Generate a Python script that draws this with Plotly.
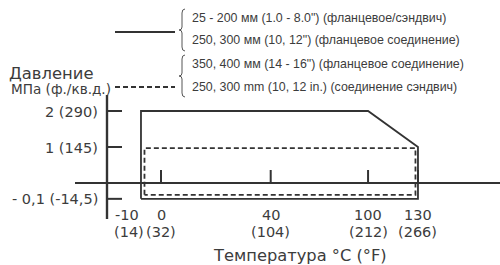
import numpy as np
import plotly.graph_objects as go

# ---------------- data ----------------
temp_ticks_c = [-10, 0, 40, 100, 130]
temp_ticks_f = [14, 32, 104, 212, 266]
# schematic (non-linear) placement of the temperature ticks along the drawn axis
temp_axis_pos = [-7.3, 0, 40, 75.5, 93.7]

press_ticks = [-0.1, 1, 2]
press_tick_labels = ["- 0,1 (-14,5)", "1 (145)", "2 (290)"]
# schematic placement of pressure values along the drawn axis
press_vals_map = [-0.1, 0, 1, 2]
press_axis_pos = [-0.44, 0, 1, 2]

# rating envelopes
solid_temp = [-10, -10, 100, 130, 130, -10]
solid_press = [-0.1, 2, 2, 1, -0.1, -0.1]
dashed_temp = [-10, -10, 130, 130, -10]
dashed_press = [-0.1, 1, 1, -0.1, -0.1]

legend_solid = ['25 - 200 мм (1.0 - 8.0") (фланцевое/сэндвич)',
                '250, 300 мм (10, 12") (фланцевое соединение)']
legend_dashed = ['350, 400 мм (14 - 16") (фланцевое соединение)',
                 '250, 300 mm (10, 12 in.) (соединение сэндвич)']

y_title = ["Давление", "МПа (ф./кв.д.)"]
x_title = "Температура °C (°F)"

# ---------------- layout constants ----------------
W, H = 500, 265
X0PX, XS = 161.0, 2.7425   # pixel of 0 position, px per unit
Y0PX, YS = 183.0, 36.0     # pixel of 0 MPa, px per MPa
LINE = "#333333"
TXT = "#3c3c3c"
FONT_LEG = "Liberation Sans, Arial, sans-serif"
FONT_AX = "DejaVu Sans, Verdana, sans-serif"


def tx(t):
    return np.interp(t, temp_ticks_c, temp_axis_pos)


def py(p):
    return np.interp(p, press_vals_map, press_axis_pos)


def px_x(px):
    return (px - X0PX) / XS


def px_y(pxv):
    return (Y0PX - pxv) / YS


fig = go.Figure()

# axis lines
fig.add_trace(go.Scatter(x=[px_x(75), px_x(500)], y=[0, 0], mode="lines",
                         line=dict(color=LINE, width=2.2), hoverinfo="skip"))
fig.add_trace(go.Scatter(x=[px_x(107), px_x(107)], y=[px_y(95), px_y(219)], mode="lines",
                         line=dict(color=LINE, width=2.4), hoverinfo="skip"))
# y ticks
for p in press_ticks:
    fig.add_trace(go.Scatter(x=[px_x(107), px_x(122)], y=[py(p), py(p)], mode="lines",
                             line=dict(color=LINE, width=2), hoverinfo="skip"))
# x ticks (upward)
for t in temp_ticks_c[1:]:
    fig.add_trace(go.Scatter(x=[tx(t), tx(t)], y=[0, 13 / YS], mode="lines",
                             line=dict(color=LINE, width=2), hoverinfo="skip"))

# solid envelope
fig.add_trace(go.Scatter(x=tx(solid_temp), y=py(solid_press), mode="lines",
                         line=dict(color=LINE, width=1.8), hoverinfo="skip"))
# dashed envelope (drawn slightly inset)
dx = tx(dashed_temp).astype(float)
dy = py(dashed_press).astype(float)
dx = np.where(np.array(dashed_temp) == min(dashed_temp), dx + 3.5 / XS, dx - 2.5 / XS)
dy = np.where(np.array(dashed_press) == min(dashed_press), dy + 4 / YS, dy - 1.2 / YS)
fig.add_trace(go.Scatter(x=dx, y=dy, mode="lines",
                         line=dict(color=LINE, width=1.8, dash="5px,3px"), hoverinfo="skip"))

# legend samples
fig.add_trace(go.Scatter(x=[px_x(115), px_x(175)], y=[px_y(32), px_y(32)], mode="lines",
                         line=dict(color=LINE, width=1.8), hoverinfo="skip"))
fig.add_trace(go.Scatter(x=[px_x(115), px_x(175)], y=[px_y(87), px_y(87)], mode="lines",
                         line=dict(color=LINE, width=1.8, dash="5px,3px"), hoverinfo="skip"))


def brace(x, top, bot):
    mid = (top + bot) / 2
    path = "M {} {} Q {} {} {} {} L {} {} Q {} {} {} {} Q {} {} {} {} L {} {} Q {} {} {} {}".format(
        px_x(x + 5), px_y(top),
        px_x(x + 2), px_y(top), px_x(x + 2), px_y(top + 4),
        px_x(x + 2), px_y(mid - 3),
        px_x(x + 2), px_y(mid), px_x(x - 1), px_y(mid),
        px_x(x + 2), px_y(mid), px_x(x + 2), px_y(mid + 3),
        px_x(x + 2), px_y(bot - 4),
        px_x(x + 2), px_y(bot), px_x(x + 5), px_y(bot))
    return dict(type="path", path=path, xref="x", yref="y",
                line=dict(color="#555555", width=1))


shapes = [brace(180, 9, 51), brace(180, 55, 97)]

ann = []


def label(text, xpx, ypx, size, anchor="center", family=FONT_AX):
    ann.append(dict(text=text, x=xpx / W, y=1 - ypx / H, xref="paper", yref="paper",
                    xanchor=anchor, yanchor="middle", showarrow=False,
                    font=dict(family=family, size=size, color=TXT)))


for i, t in enumerate(legend_solid):
    label(t, 190, 18 + 22.5 * i, 12.4, "left", FONT_LEG)
for i, t in enumerate(legend_dashed):
    label(t, 190, 64 + 23 * i, 12.4, "left", FONT_LEG)

label(y_title[0], 51, 73.5, 16.4)
label(y_title[1], 113, 89, 13.6, "right")

for p, lab in zip(press_ticks, press_tick_labels):
    label(lab, 100, Y0PX - YS * py(p) + 0.5, 14.5, "right")

offs = [-14, 0, 0, 0, 0]
for t, f, o in zip(temp_ticks_c, temp_ticks_f, offs):
    xp = X0PX + XS * tx(t) + o
    label(str(t), xp, 214.5, 14.5)
    label("({})".format(f), xp + (2 if t == -10 else 0), 232, 14.5)

label(x_title, 300, 255.5, 16.3)

fig.update_layout(
    width=W, height=H, margin=dict(l=0, r=0, t=0, b=0),
    paper_bgcolor="white", plot_bgcolor="white", showlegend=False,
    xaxis=dict(range=[px_x(0), px_x(W)], visible=False, fixedrange=True),
    yaxis=dict(range=[px_y(H), px_y(0)], visible=False, fixedrange=True),
    shapes=shapes, annotations=ann,
)

fig.write_html("out.html", config={"displayModeBar": False},
               post_script="document.body.style.margin='0';document.body.style.overflow='hidden';")
